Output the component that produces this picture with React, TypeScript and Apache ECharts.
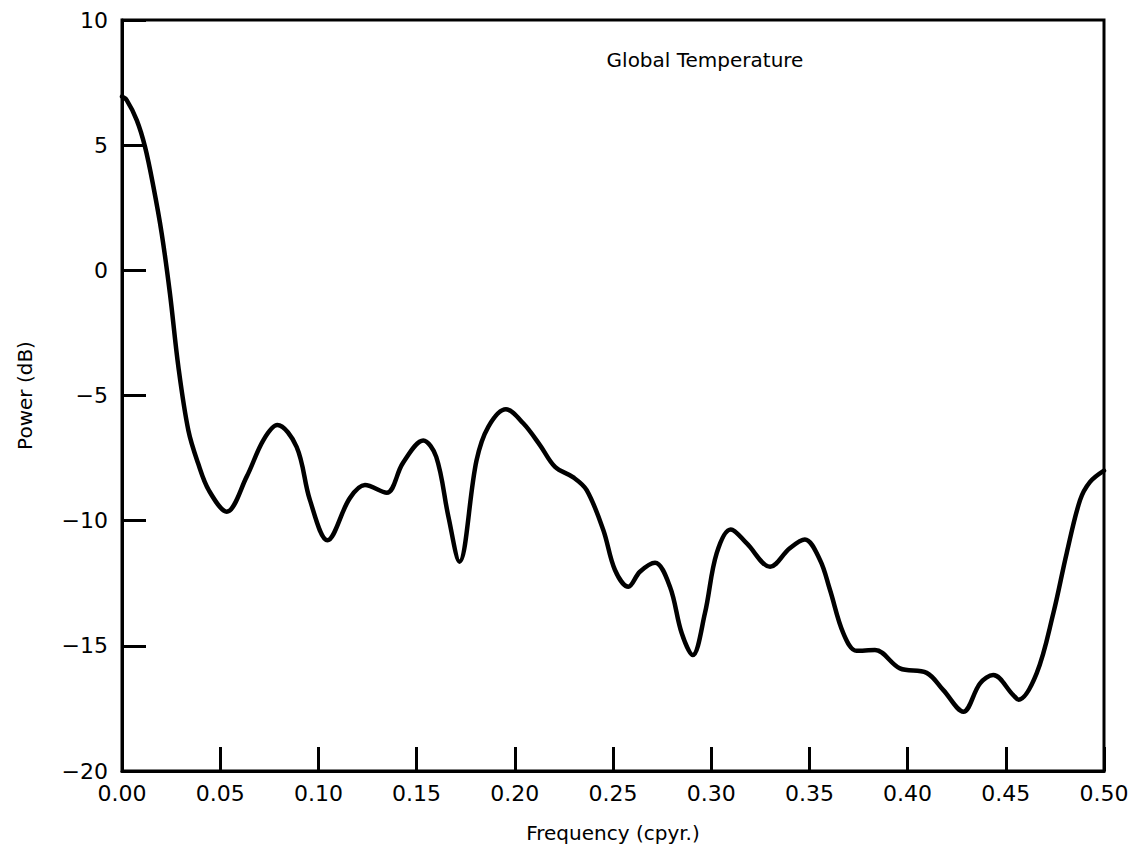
import React, { useEffect, useRef } from "react";
import * as echarts from "echarts";

// Frequency (cycles per year) sampled along the curve
const frequency: number[] = [
  0.0, 0.0024, 0.0075, 0.0117, 0.016, 0.0202, 0.0244, 0.0287, 0.0338, 0.0387,
  0.0443, 0.0533, 0.0635, 0.072, 0.0791, 0.0889, 0.0957, 0.1046, 0.116, 0.1237,
  0.1348, 0.143, 0.1534, 0.16, 0.1662, 0.1718, 0.1805, 0.1865, 0.1955, 0.2043,
  0.2128, 0.2205, 0.2298, 0.2366, 0.2451, 0.251, 0.2578, 0.2637, 0.2714, 0.279,
  0.285, 0.2906, 0.2968, 0.3028, 0.31, 0.318, 0.33, 0.34, 0.3477, 0.3554,
  0.3605, 0.3673, 0.374, 0.3834, 0.3961, 0.4097, 0.4182, 0.4284, 0.4369, 0.4436,
  0.4538, 0.4565, 0.4657, 0.4742, 0.481, 0.4878, 0.4929, 0.5,
];

// Power (dB)
const power: number[] = [
  6.94, 6.8, 6.0, 4.94, 3.34, 1.48, -0.92, -3.85, -6.4, -7.7,
  -8.8, -9.64, -8.24, -6.78, -6.18, -7.05, -9.18, -10.78, -9.1, -8.58,
  -8.88, -7.7, -6.8, -7.45, -9.84, -11.64, -7.6, -6.25, -5.55, -6.11,
  -6.98, -7.85, -8.27, -8.78, -10.38, -11.97, -12.64, -12.04, -11.68, -12.64,
  -14.5, -15.37, -13.7, -11.3, -10.35, -10.9, -11.84, -11.1, -10.75, -11.57,
  -12.77, -14.5, -15.2, -15.17, -15.9, -16.08, -16.77, -17.63, -16.5, -16.17,
  -16.97, -17.15, -16.1, -13.7, -11.3, -9.18, -8.45, -8.0,
];

const xMin = 0;
const xMax = 0.5;
const xStep = 0.05;
const yMin = -20;
const yMax = 10;
const yStep = 5;

const titleText = "Global Temperature";
const xName = "Frequency (cpyr.)";
const yName = "Power (dB)";

const FONT = "'DejaVu Sans', 'Liberation Sans', Arial, sans-serif";

export default function App() {
  const ref = useRef<HTMLDivElement>(null);

  useEffect(() => {
    if (!ref.current) return;
    const chart = echarts.init(ref.current, undefined, { renderer: "svg" });
    const data = frequency.map((f, i) => [f, power[i]]);
    chart.setOption({
      animation: false,
      backgroundColor: "#ffffff",
      textStyle: { fontFamily: FONT, color: "#000" },
      grid: {
        left: 122,
        right: 33,
        top: 20,
        bottom: 85,
        show: true,
        borderColor: "#000",
        borderWidth: 3,
        backgroundColor: "transparent",
      },
      graphic: [
        {
          type: "text",
          x: 705,
          y: 60,
          style: {
            text: titleText,
            font: `20px ${FONT}`,
            fill: "#000",
            textAlign: "center",
            textVerticalAlign: "middle",
          },
        },
      ],
      xAxis: {
        type: "value",
        min: xMin,
        max: xMax,
        interval: xStep,
        name: xName,
        nameLocation: "middle",
        nameGap: 52,
        nameTextStyle: { fontSize: 20, fontFamily: FONT, color: "#000" },
        axisLine: { show: true, onZero: false, lineStyle: { color: "#000", width: 3 } },
        axisTick: { show: true, inside: true, length: 24, lineStyle: { color: "#000", width: 3 } },
        axisLabel: {
          fontSize: 22,
          fontFamily: FONT,
          color: "#000",
          margin: 11,
          formatter: (v: number) => v.toFixed(2),
        },
        splitLine: { show: false },
      },
      yAxis: {
        type: "value",
        min: yMin,
        max: yMax,
        interval: yStep,
        name: yName,
        nameLocation: "middle",
        nameGap: 87,
        nameTextStyle: { fontSize: 20, fontFamily: FONT, color: "#000" },
        axisLine: { show: true, onZero: false, lineStyle: { color: "#000", width: 3 } },
        axisTick: { show: true, inside: true, length: 24, lineStyle: { color: "#000", width: 3 } },
        axisLabel: {
          fontSize: 22,
          fontFamily: FONT,
          color: "#000",
          margin: 14,
          formatter: (v: number) => (v < 0 ? "\u2212" + Math.abs(v) : String(v)),
        },
        splitLine: { show: false },
      },
      series: [
        {
          type: "line",
          data,
          smooth: 0.35,
          showSymbol: false,
          symbol: "none",
          lineStyle: { color: "#000", width: 4.5, cap: "round", join: "round" },
        },
      ],
    });
    return () => chart.dispose();
  }, []);

  return (
    <div
      ref={ref}
      style={{ position: "fixed", left: 0, top: 0, width: 1137, height: 856, background: "#fff" }}
    />
  );
}
